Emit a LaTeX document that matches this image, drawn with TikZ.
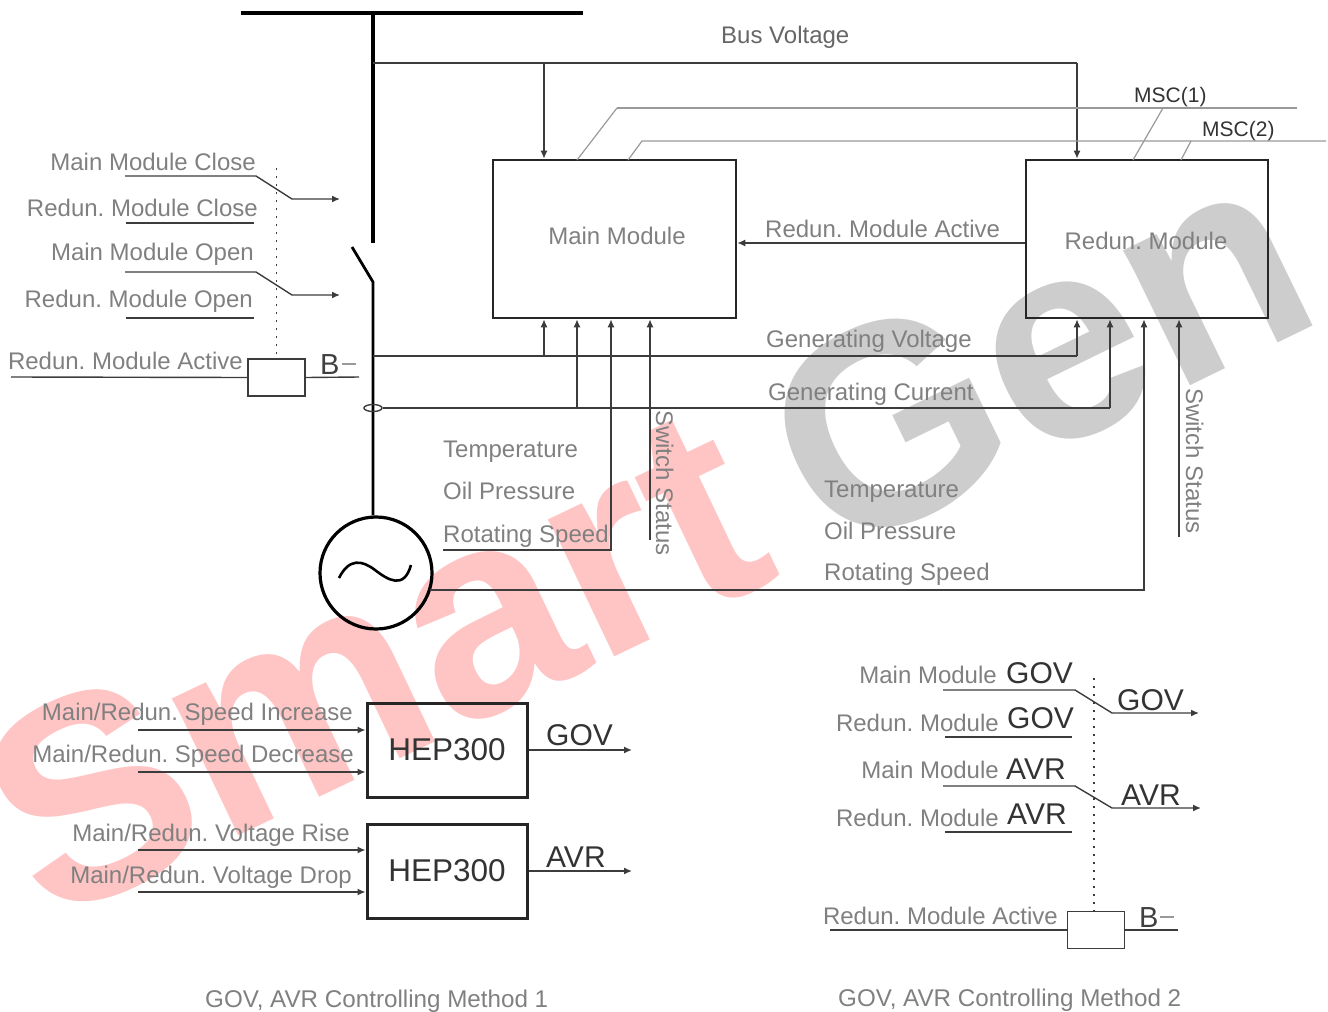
\documentclass[tikz,border=0pt]{standalone}
\usepackage{fontspec}
\setmainfont{Liberation Sans}
\usetikzlibrary{arrows.meta,shapes.geometric}
\definecolor{wmpink}{HTML}{FFC4C4}
\definecolor{wmgray}{HTML}{CDCDCD}
\definecolor{txtgray}{HTML}{808080}
\definecolor{linegray}{HTML}{3C3C3C}
\frenchspacing
\tikzset{
 x=1pt,y=-1pt,
 wire/.style={draw=linegray,line width=1.4pt},
 arr/.style={wire,-{Latex[length=8pt,width=7pt]}},
 heavy/.style={draw=black,line width=3.4pt},
 palesig/.style={draw=gray!80,line width=1.2pt},
 dotline/.style={draw=linegray,line width=1.6pt,dash pattern=on 1.8pt off 6.2pt},
 boxed/.style={draw=black!85,line width=2.6pt,fill=none,inner sep=0pt},
 relay/.style={draw=linegray,line width=1.5pt,fill=none,minimum width=57pt,minimum height=37pt,inner sep=0pt},
 lbl/.style={text=txtgray,font=\fontsize{24}{24}\selectfont,inner sep=0pt,text height=19pt,text depth=3pt},
 lblr/.style={lbl,anchor=east},
 lbll/.style={lbl,anchor=west},
 captionlbl/.style={lbl,anchor=west,font=\fontsize{24.2}{24}\selectfont},
 dark/.style={lbl,anchor=west,text=black!80,font=\fontsize{30}{29}\selectfont,text height=21pt,text depth=1pt},
 msc/.style={lbl,anchor=west,text=black!80,font=\fontsize{21}{21}\selectfont},
 bee/.style={lbl,anchor=west,text=black!75,font=\fontsize{29}{29}\selectfont},
 hepbox/.style={boxed,line width=3pt,minimum width=160pt,minimum height=94pt,font=\fontsize{31.5}{31}\selectfont,text=black!80},
 wmS/.style={font=\fontsize{288}{288}\bfseries\selectfont,inner sep=0pt,anchor=base west,rotate=25.5},
 wmG/.style={font=\fontsize{285}{285}\bfseries\selectfont,inner sep=0pt,anchor=base west,rotate=26},
}
\begin{document}
\begin{tikzpicture}
\useasboundingbox (0,0) rectangle (1328,1012);
% watermark
\node[wmS,text=wmpink] (wmsmart) at (47,927) {Smart};
\node[wmG,text=wmgray] (wmgen) at (831,561) {Gen};

% main boxes
\node[boxed,minimum width=243pt,minimum height=158pt] (main) at (614.5,239) {};
\node[boxed,minimum width=242pt,minimum height=158pt] (redun) at (1147,239) {};
\node[lbl] (mainlbl) at (617,236) {Main Module};
\node[lbl] (redunlbl) at (1146,241) {Redun. Module};

% bus and generator
\coordinate (busL) at (241,13); \coordinate (busR) at (583,13);
\coordinate (busT) at (373,13); \coordinate (swTop) at (373,243);
\coordinate (bladeA) at (352,247); \coordinate (bladeB) at (373,282);
\node[draw=black,line width=3.2pt,circle,minimum size=112pt,inner sep=0pt] (gen) at (376,573) {};
\draw[heavy] (busL) -- (busR);
\draw[heavy] (busT) -- (swTop);
\draw[heavy,line width=2.8pt] (bladeA) -- (bladeB) -- (bladeB |- gen.north);
\draw[draw=black,line width=2.6pt] (339,578) .. controls (349,558) and (362,560) .. (375,570) .. controls (388,580) and (404,590) .. (411,565);
\node[draw=linegray,line width=1.4pt,ellipse,minimum width=18pt,minimum height=7pt,inner sep=0pt] (ct) at (373,408) {};

% bus voltage
\coordinate (bv0) at (373,63); \coordinate (bvM) at (544,63); \coordinate (bvR) at (1077,63);
\draw[wire] (bv0) -- (bvR);
\draw[arr] (bvM) -- (bvM |- main.north);
\draw[arr] (bvR) -- (bvR |- redun.north);
\node[lbl,anchor=west,text=black!60] (busv) at (721,35) {Bus Voltage};

% MSC lines
\coordinate (m1R) at (1297,108); \coordinate (m1L) at (617,108); \coordinate (m1A) at (577,160);
\coordinate (m1B) at (1163,108); \coordinate (m1C) at (1133,160);
\coordinate (m2R) at (1326,141); \coordinate (m2L) at (642,141); \coordinate (m2A) at (628,160);
\coordinate (m2B) at (1191,141); \coordinate (m2C) at (1181,160);
\draw[palesig,line width=1.8pt] (m1R) -- (m1L);
\draw[palesig] (m1L) -- (m1A);
\draw[palesig] (m1B) -- (m1C);
\draw[palesig] (m2R) -- (m2L) -- (m2A);
\draw[palesig] (m2B) -- (m2C);
\node[msc] (msc1) at (1134,94) {MSC(1)};
\node[msc] (msc2) at (1202,128) {MSC(2)};

% redundant active
\coordinate (ra) at (1026,243);
\draw[arr] (redun.west |- ra) -- (main.east |- ra);
\node[lbll] (ralbl) at (765,229) {Redun. Module Active};

% generating voltage
\coordinate (gv0) at (373,356); \coordinate (gvM) at (544,356); \coordinate (gvR) at (1077,356);
\draw[wire] (gv0) -- (gvR);
\draw[arr] (gvM) -- (gvM |- main.south);
\draw[arr] (gvR) -- (gvR |- redun.south);
\node[lbll] (gvlbl) at (766,339) {Generating Voltage};

% generating current
\coordinate (gcM) at (577,408); \coordinate (gcR) at (1110,408);
\draw[wire] (ct.east) -- (gcR);
\draw[arr] (gcM) -- (gcM |- main.south);
\draw[arr] (gcR) -- (gcR |- redun.south);
\node[lbll] (gclbl) at (768,392) {Generating Current};

% rotating speed, switch status
\coordinate (rsA) at (443,550); \coordinate (rsB) at (611,550);
\coordinate (rrA) at (430,590); \coordinate (rrB) at (1144,590);
\coordinate (ssM) at (650,540); \coordinate (ssR) at (1179,537);
\draw[arr] (rsA) -- (rsB) -- (rsB |- main.south);
\draw[arr] (rrA) -- (rrB) -- (rrB |- redun.south);
\draw[arr] (ssM) -- (ssM |- main.south);
\draw[arr] (ssR) -- (ssR |- redun.south);
\node[lbl,rotate=-90,anchor=west] (sslblM) at (664,410) {Switch Status};
\node[lbl,rotate=-90,anchor=west] (sslblR) at (1194,388) {Switch Status};
\node[lbll] (t1) at (443,449) {Temperature};
\node[lbll] (o1) at (443,491) {Oil Pressure};
\node[lbll] (r1) at (443,534) {Rotating Speed};
\node[lbll] (t2) at (824,489) {Temperature};
\node[lbll] (o2) at (824,531) {Oil Pressure};
\node[lbll] (r2) at (824,572) {Rotating Speed};

% left close/open group
\coordinate (cA) at (125,176); \coordinate (cB) at (256,176); \coordinate (cC) at (292,199); \coordinate (cD) at (340,199);
\coordinate (oA) at (125,272); \coordinate (oB) at (256,272); \coordinate (oC) at (292,295); \coordinate (oD) at (340,295);
\coordinate (c2A) at (126,223); \coordinate (c2B) at (254,223);
\coordinate (o2A) at (126,318); \coordinate (o2B) at (254,318);
\draw[arr] (cA) -- (cB) -- (cC) -- (cD);
\draw[arr] (oA) -- (oB) -- (oC) -- (oD);
\draw[wire] (c2A) -- (c2B);
\draw[wire] (o2A) -- (o2B);
\node[lblr] (l1) at (256,162) {Main Module Close};
\node[lblr] (l2) at (258,208) {Redun. Module Close};
\node[lblr] (l3) at (254,252) {Main Module Open};
\node[lblr] (l4) at (253,299) {Redun. Module Open};
\node[relay] (rel1) at (276.5,377.5) {};
\coordinate (d1) at (276.5,168);
\draw[dotline] (d1) -- (rel1.north);
\coordinate (r1L) at (11,377); \coordinate (r1R) at (359,377);
\draw[wire] (r1L) -- (rel1.west);
\draw[wire] (rel1.east) -- (r1R);
\node[lblr] (l5) at (243,361) {Redun. Module Active};
\node[bee] (b1) at (320,366) {B};
\coordinate (b1a) at (342,364); \coordinate (b1b) at (356,364);
\draw[palesig] (b1a) -- (b1b);

% HEP300
\node[hepbox] (hep1) at (447,750) {HEP300};
\node[hepbox] (hep2) at (447,871) {HEP300};
\coordinate (i1) at (138,730); \coordinate (i2) at (138,772); \coordinate (i3) at (138,850); \coordinate (i4) at (138,892);
\draw[arr] (i1) -- (i1 -| hep1.west);
\draw[arr] (i2) -- (i2 -| hep1.west);
\draw[arr] (i3) -- (i3 -| hep2.west);
\draw[arr] (i4) -- (i4 -| hep2.west);
\coordinate (g1e) at (632,750); \coordinate (a1e) at (632,871);
\draw[arr] (hep1.east) -- (g1e);
\draw[arr] (hep2.east) -- (a1e);
\node[lblr] (h1) at (353,712) {Main/Redun. Speed Increase};
\node[lblr] (h2) at (354,754) {Main/Redun. Speed Decrease};
\node[lblr] (h3) at (350,833) {Main/Redun. Voltage Rise};
\node[lblr] (h4) at (352,875) {Main/Redun. Voltage Drop};
\node[dark] (hg) at (546,735) {GOV};
\node[dark] (ha) at (546,857) {AVR};

% method 2
\coordinate (gA) at (943,690); \coordinate (gB) at (1075,690); \coordinate (gC) at (1112,713); \coordinate (gD) at (1199,713);
\coordinate (aA) at (943,786); \coordinate (aB) at (1075,786); \coordinate (aC) at (1112,808); \coordinate (aD) at (1201,808);
\coordinate (g2A) at (945,737); \coordinate (g2B) at (1072,737);
\coordinate (a2A) at (945,832); \coordinate (a2B) at (1072,832);
\draw[arr] (gA) -- (gB) -- (gC) -- (gD);
\draw[arr] (aA) -- (aB) -- (aC) -- (aD);
\draw[wire] (g2A) -- (g2B);
\draw[wire] (a2A) -- (a2B);
\node[lblr] (n1) at (997,675) {Main Module};
\node[dark] (n1b) at (1006,673) {GOV};
\node[lblr] (n2) at (999,723) {Redun. Module};
\node[dark] (n2b) at (1007,718) {GOV};
\node[lblr] (n3) at (999,770) {Main Module};
\node[dark] (n3b) at (1006,769) {AVR};
\node[lblr] (n4) at (999,818) {Redun. Module};
\node[dark] (n4b) at (1007,814) {AVR};
\node[dark] (n5) at (1117,700) {GOV};
\node[dark] (n6) at (1121,795) {AVR};
\node[relay] (rel2) at (1096,930) {};
\coordinate (d2) at (1094,678);
\draw[dotline] (d2) -- (d2 |- rel2.north);
\coordinate (r2L) at (830,930); \coordinate (r2R) at (1178,930);
\draw[wire] (r2L) -- (rel2.west);
\draw[wire] (rel2.east) -- (r2R);
\node[lblr] (n7) at (1058,916) {Redun. Module Active};
\node[bee] (b2) at (1139,919) {B};
\coordinate (b2a) at (1160,917); \coordinate (b2b) at (1174,917);
\draw[palesig] (b2a) -- (b2b);

% captions
\node[captionlbl] (cap1) at (205,999) {GOV, AVR Controlling Method 1};
\node[captionlbl] (cap2) at (838,998) {GOV, AVR Controlling Method 2};
\end{tikzpicture}
\end{document}
